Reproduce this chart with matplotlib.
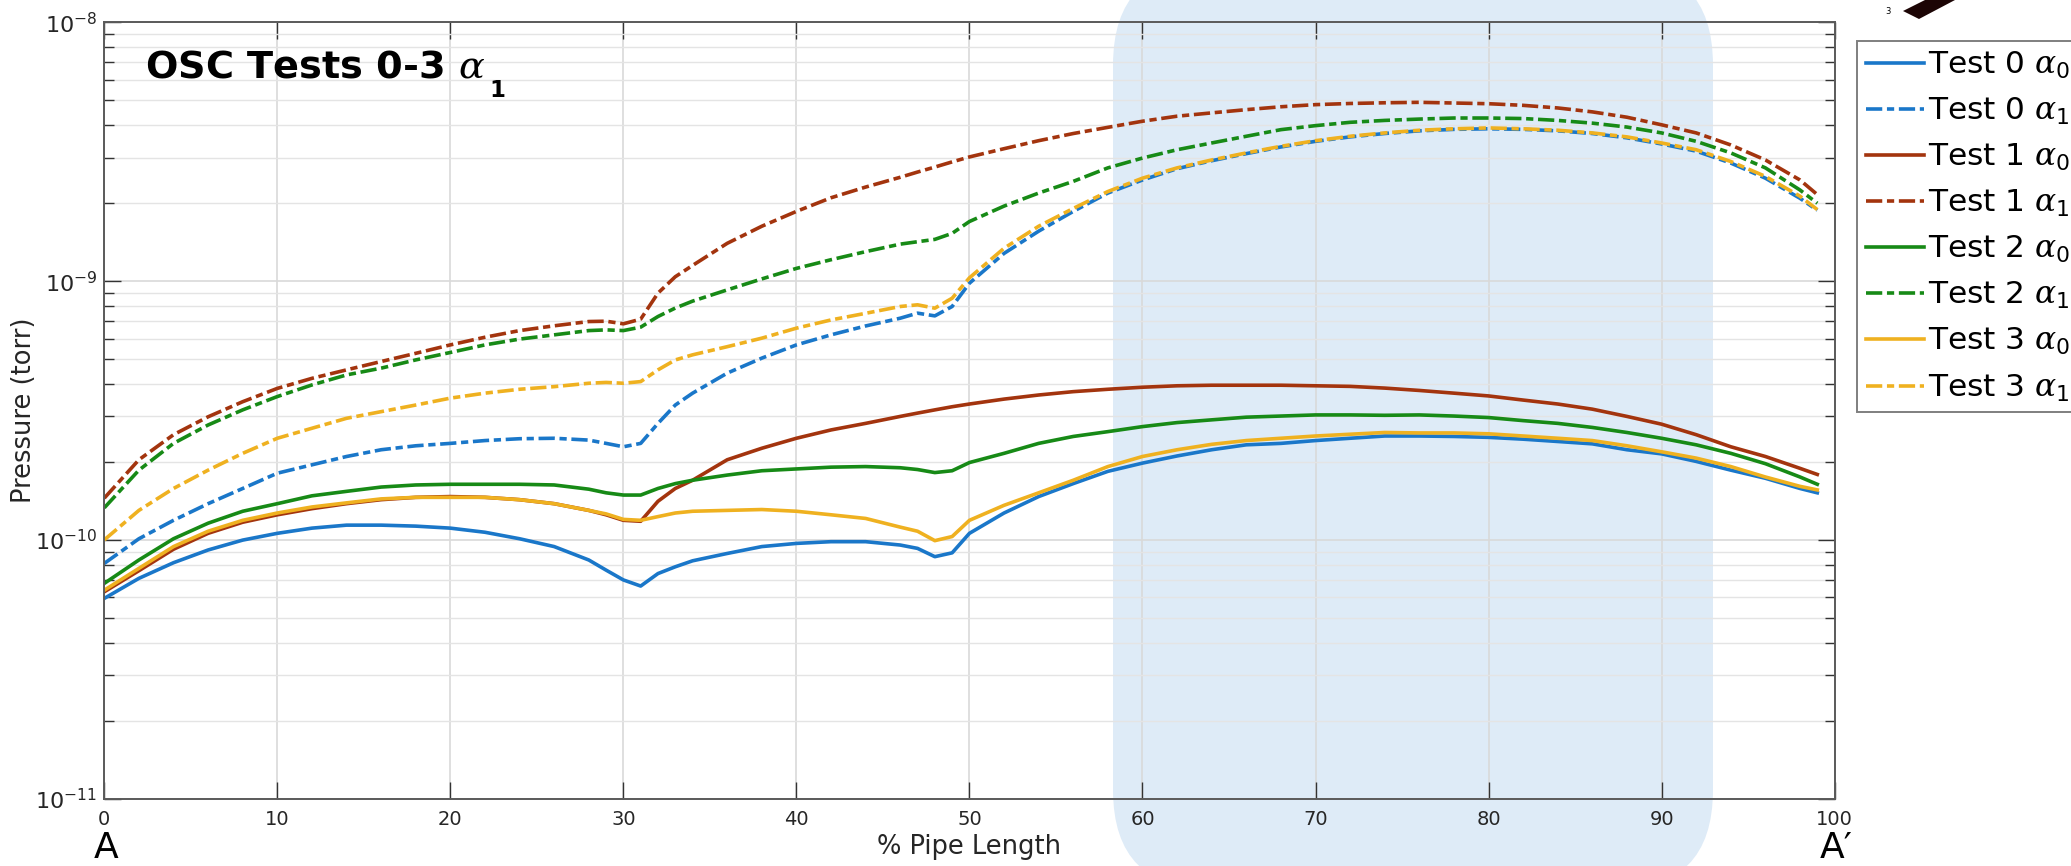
import matplotlib
matplotlib.use('Agg')
import matplotlib.pyplot as plt
from matplotlib.patches import FancyBboxPatch, Polygon
from matplotlib.transforms import IdentityTransform
from matplotlib.ticker import NullLocator, FixedLocator

plt.rcParams['font.family'] = ['DejaVu Sans']
plt.rcParams['mathtext.fontset'] = 'custom'
plt.rcParams['mathtext.rm'] = 'DejaVu Sans'
plt.rcParams['mathtext.it'] = 'DejaVu Serif:italic'
plt.rcParams['mathtext.bf'] = 'DejaVu Sans:bold'

# % pipe length sample positions
pos = [0, 2, 4, 6, 8, 10, 12, 14, 16, 18, 20, 22, 24, 26, 28, 29, 30, 31, 32, 33,
       34, 36, 38, 40, 42, 44, 46, 47, 48, 49, 50, 52, 54, 56, 58, 60, 62, 64, 66, 68,
       70, 72, 74, 76, 78, 80, 82, 84, 86, 88, 90, 92, 94, 96, 98, 99]

# pressures (torr)
t0_a0 = [5.94e-11, 7.10e-11, 8.16e-11, 9.14e-11, 9.98e-11, 1.06e-10, 1.11e-10, 1.14e-10,
         1.14e-10, 1.13e-10, 1.11e-10, 1.07e-10, 1.01e-10, 9.42e-11, 8.36e-11, 7.64e-11,
         7.00e-11, 6.63e-11, 7.41e-11, 7.87e-11, 8.30e-11, 8.86e-11, 9.42e-11, 9.69e-11,
         9.84e-11, 9.84e-11, 9.55e-11, 9.27e-11, 8.61e-11, 8.91e-11, 1.06e-10, 1.27e-10,
         1.47e-10, 1.65e-10, 1.84e-10, 1.98e-10, 2.11e-10, 2.23e-10, 2.33e-10, 2.36e-10,
         2.42e-10, 2.47e-10, 2.52e-10, 2.52e-10, 2.51e-10, 2.49e-10, 2.45e-10, 2.40e-10,
         2.35e-10, 2.23e-10, 2.15e-10, 2.01e-10, 1.86e-10, 1.73e-10, 1.58e-10, 1.52e-10]
t0_a1 = [8.11e-11, 1.01e-10, 1.19e-10, 1.38e-10, 1.58e-10, 1.81e-10, 1.95e-10, 2.10e-10,
         2.23e-10, 2.31e-10, 2.36e-10, 2.42e-10, 2.46e-10, 2.47e-10, 2.43e-10, 2.36e-10,
         2.29e-10, 2.36e-10, 2.82e-10, 3.32e-10, 3.69e-10, 4.41e-10, 5.04e-10, 5.67e-10,
         6.20e-10, 6.71e-10, 7.19e-10, 7.52e-10, 7.34e-10, 7.98e-10, 9.82e-10, 1.28e-9,
         1.56e-9, 1.86e-9, 2.19e-9, 2.46e-9, 2.72e-9, 2.92e-9, 3.11e-9, 3.30e-9,
         3.47e-9, 3.61e-9, 3.72e-9, 3.81e-9, 3.86e-9, 3.88e-9, 3.86e-9, 3.81e-9,
         3.72e-9, 3.58e-9, 3.39e-9, 3.18e-9, 2.86e-9, 2.50e-9, 2.09e-9, 1.88e-9]
t1_a0 = [6.30e-11, 7.60e-11, 9.20e-11, 1.06e-10, 1.17e-10, 1.25e-10, 1.32e-10, 1.38e-10,
         1.43e-10, 1.46e-10, 1.47e-10, 1.46e-10, 1.43e-10, 1.38e-10, 1.30e-10, 1.25e-10,
         1.19e-10, 1.18e-10, 1.41e-10, 1.58e-10, 1.70e-10, 2.04e-10, 2.26e-10, 2.47e-10,
         2.66e-10, 2.82e-10, 3.00e-10, 3.09e-10, 3.18e-10, 3.27e-10, 3.35e-10, 3.50e-10,
         3.63e-10, 3.74e-10, 3.82e-10, 3.89e-10, 3.94e-10, 3.96e-10, 3.96e-10, 3.96e-10,
         3.94e-10, 3.92e-10, 3.86e-10, 3.78e-10, 3.69e-10, 3.60e-10, 3.47e-10, 3.35e-10,
         3.20e-10, 3.00e-10, 2.80e-10, 2.55e-10, 2.29e-10, 2.10e-10, 1.89e-10, 1.79e-10]
t1_a1 = [1.45e-10, 2.04e-10, 2.55e-10, 2.99e-10, 3.42e-10, 3.85e-10, 4.21e-10, 4.54e-10,
         4.89e-10, 5.26e-10, 5.67e-10, 6.07e-10, 6.44e-10, 6.72e-10, 6.98e-10, 7.00e-10,
         6.84e-10, 7.13e-10, 8.99e-10, 1.04e-9, 1.15e-9, 1.40e-9, 1.63e-9, 1.86e-9,
         2.10e-9, 2.31e-9, 2.52e-9, 2.64e-9, 2.76e-9, 2.89e-9, 3.02e-9, 3.25e-9,
         3.49e-9, 3.72e-9, 3.93e-9, 4.15e-9, 4.34e-9, 4.47e-9, 4.60e-9, 4.72e-9,
         4.81e-9, 4.86e-9, 4.89e-9, 4.91e-9, 4.88e-9, 4.85e-9, 4.78e-9, 4.67e-9,
         4.51e-9, 4.30e-9, 4.02e-9, 3.74e-9, 3.36e-9, 2.94e-9, 2.46e-9, 2.16e-9]
t2_a0 = [6.79e-11, 8.36e-11, 1.01e-10, 1.16e-10, 1.29e-10, 1.38e-10, 1.48e-10, 1.54e-10,
         1.60e-10, 1.63e-10, 1.64e-10, 1.64e-10, 1.64e-10, 1.63e-10, 1.57e-10, 1.52e-10,
         1.49e-10, 1.49e-10, 1.58e-10, 1.65e-10, 1.70e-10, 1.78e-10, 1.85e-10, 1.88e-10,
         1.91e-10, 1.92e-10, 1.90e-10, 1.87e-10, 1.82e-10, 1.85e-10, 1.99e-10, 2.16e-10,
         2.36e-10, 2.51e-10, 2.62e-10, 2.74e-10, 2.84e-10, 2.91e-10, 2.98e-10, 3.01e-10,
         3.04e-10, 3.04e-10, 3.03e-10, 3.04e-10, 3.01e-10, 2.97e-10, 2.89e-10, 2.82e-10,
         2.72e-10, 2.60e-10, 2.47e-10, 2.33e-10, 2.16e-10, 1.97e-10, 1.75e-10, 1.64e-10]
t2_a1 = [1.33e-10, 1.86e-10, 2.36e-10, 2.78e-10, 3.18e-10, 3.58e-10, 3.97e-10, 4.34e-10,
         4.61e-10, 4.96e-10, 5.30e-10, 5.67e-10, 5.97e-10, 6.20e-10, 6.44e-10, 6.48e-10,
         6.44e-10, 6.64e-10, 7.30e-10, 7.87e-10, 8.37e-10, 9.25e-10, 1.02e-9, 1.12e-9,
         1.21e-9, 1.30e-9, 1.39e-9, 1.42e-9, 1.45e-9, 1.53e-9, 1.70e-9, 1.95e-9,
         2.19e-9, 2.43e-9, 2.74e-9, 2.99e-9, 3.22e-9, 3.42e-9, 3.63e-9, 3.85e-9,
         3.99e-9, 4.11e-9, 4.18e-9, 4.23e-9, 4.27e-9, 4.27e-9, 4.25e-9, 4.18e-9,
         4.08e-9, 3.94e-9, 3.74e-9, 3.47e-9, 3.13e-9, 2.74e-9, 2.25e-9, 2.00e-9]
t3_a0 = [6.39e-11, 7.76e-11, 9.42e-11, 1.08e-10, 1.19e-10, 1.27e-10, 1.34e-10, 1.39e-10,
         1.44e-10, 1.46e-10, 1.46e-10, 1.46e-10, 1.43e-10, 1.38e-10, 1.30e-10, 1.26e-10,
         1.20e-10, 1.19e-10, 1.23e-10, 1.27e-10, 1.29e-10, 1.30e-10, 1.31e-10, 1.29e-10,
         1.25e-10, 1.21e-10, 1.12e-10, 1.08e-10, 9.93e-11, 1.03e-10, 1.19e-10, 1.36e-10,
         1.52e-10, 1.70e-10, 1.92e-10, 2.10e-10, 2.23e-10, 2.34e-10, 2.42e-10, 2.47e-10,
         2.52e-10, 2.56e-10, 2.60e-10, 2.59e-10, 2.59e-10, 2.57e-10, 2.52e-10, 2.47e-10,
         2.42e-10, 2.31e-10, 2.19e-10, 2.07e-10, 1.92e-10, 1.75e-10, 1.61e-10, 1.56e-10]
t3_a1 = [1.00e-10, 1.30e-10, 1.58e-10, 1.86e-10, 2.16e-10, 2.47e-10, 2.70e-10, 2.95e-10,
         3.13e-10, 3.32e-10, 3.53e-10, 3.69e-10, 3.82e-10, 3.91e-10, 4.03e-10, 4.06e-10,
         4.03e-10, 4.09e-10, 4.54e-10, 4.96e-10, 5.19e-10, 5.58e-10, 6.02e-10, 6.58e-10,
         7.08e-10, 7.51e-10, 7.98e-10, 8.10e-10, 7.86e-10, 8.59e-10, 1.03e-9, 1.34e-9,
         1.63e-9, 1.91e-9, 2.22e-9, 2.50e-9, 2.74e-9, 2.94e-9, 3.13e-9, 3.32e-9,
         3.49e-9, 3.63e-9, 3.74e-9, 3.83e-9, 3.88e-9, 3.91e-9, 3.88e-9, 3.83e-9,
         3.74e-9, 3.61e-9, 3.42e-9, 3.22e-9, 2.90e-9, 2.54e-9, 2.13e-9, 1.89e-9]

series = [
    ('Test 0 $\\alpha_0$', t0_a0, '#1a77c9', '-'),
    ('Test 0 $\\alpha_1$', t0_a1, '#1a77c9', '-.'),
    ('Test 1 $\\alpha_0$', t1_a0, '#a3340e', '-'),
    ('Test 1 $\\alpha_1$', t1_a1, '#a3340e', '-.'),
    ('Test 2 $\\alpha_0$', t2_a0, '#178a16', '-'),
    ('Test 2 $\\alpha_1$', t2_a1, '#178a16', '-.'),
    ('Test 3 $\\alpha_0$', t3_a0, '#efb120', '-'),
    ('Test 3 $\\alpha_1$', t3_a1, '#efb120', '-.'),
]
decades = [1e-11, 1e-10, 1e-9, 1e-8]
dashdot = (0, (4.5, 1.3, 2.0, 1.3))

W, H = 2071, 866
fig = plt.figure(figsize=(W / 100, H / 100), dpi=100)

# highlighted region (rounded box behind the axes, in pixels)
blob = FancyBboxPatch((1113, -24), 600, 925,
                      boxstyle='round,pad=0,rounding_size=100',
                      transform=IdentityTransform(), facecolor='#deebf7',
                      edgecolor='none', zorder=-5)
fig.patches.append(blob)

# cropped dark shape in the top right corner
shape = Polygon([(1903, H - 11), (1919, H - 19), (1955, H), (1925, H)],
                closed=True, transform=IdentityTransform(),
                facecolor='#1c0505', edgecolor='none')
fig.patches.append(shape)
fig.text(1888 / W, 1 - 12 / H, '3', fontsize=6, ha='center', va='center')

ax = fig.add_axes([104.3 / W, 67.4 / H, 1730.3 / W, 776.2 / H])
ax.set_facecolor('none')

for label, vals, color, ls in series:
    ax.plot(pos, vals, color=color, lw=2.6,
            linestyle=dashdot if ls == '-.' else '-', label=label)

ax.set_yscale('log')
ax.set_xlim(0, 100)
ax.set_ylim(1e-11, 1e-8)
ax.xaxis.set_major_locator(FixedLocator(range(0, 101, 10)))
ax.xaxis.set_minor_locator(NullLocator())
ax.yaxis.set_major_locator(FixedLocator(decades))
ax.yaxis.set_minor_locator(FixedLocator([m * d for d in decades[:-1] for m in range(2, 10)]))

ax.set_axisbelow(True)
ax.grid(True, which='major', color='#d9d9d9', lw=1.2)
ax.grid(True, which='minor', axis='y', color='#e4e4e4', lw=1.0)

ax.tick_params(which='both', direction='in', top=True, right=True,
               color='#333333', labelcolor='#262626')
ax.tick_params(which='major', length=12.5, width=1.0)
ax.tick_params(which='minor', length=7, width=1.0)
ax.tick_params(axis='x', pad=8, labelsize=14)
ax.tick_params(axis='y', pad=5, labelsize=16)
for sp in ax.spines.values():
    sp.set_color('#5a5a5a')
    sp.set_linewidth(1.4)

ax.set_xlabel('% Pipe Length', fontsize=18.5, color='#262626', labelpad=4)
ax.set_ylabel('Pressure (torr)', fontsize=18.5, color='#262626')
ax.yaxis.set_label_coords(-0.0464, 0.5)
ax.yaxis.label.set_va('center')

# panel title: alpha plus a large, low bold subscript
title = fig.text(145 / W, 1 - 78 / H, 'OSC Tests 0-3 $\\alpha$',
                 fontsize=27.5, fontweight='bold', ha='left', va='baseline')
fig.canvas.draw()
tb = title.get_window_extent()
fig.text(tb.x1 / W + 4 / W, 1 - 97 / H, '1', fontsize=16.5, fontweight='bold',
         ha='left', va='baseline')

fig.text(106 / W, 1 - 865 / H, 'A', fontsize=26, ha='center', va='bottom')
fig.text(1836 / W, 1 - 865 / H, 'A\u2032', fontsize=26, ha='center', va='bottom')

leg = ax.legend(loc='upper left', bbox_to_anchor=(1857 / W, 1 - 41 / H),
                bbox_transform=fig.transFigure, borderaxespad=0, fontsize=22.5,
                handlelength=1.85, handletextpad=0.15, labelspacing=0.48,
                borderpad=0.28, fancybox=False, framealpha=1)
leg.get_frame().set_edgecolor('#7f7f7f')
leg.get_frame().set_linewidth(1.4)

fig.savefig('out.png', dpi=100)
